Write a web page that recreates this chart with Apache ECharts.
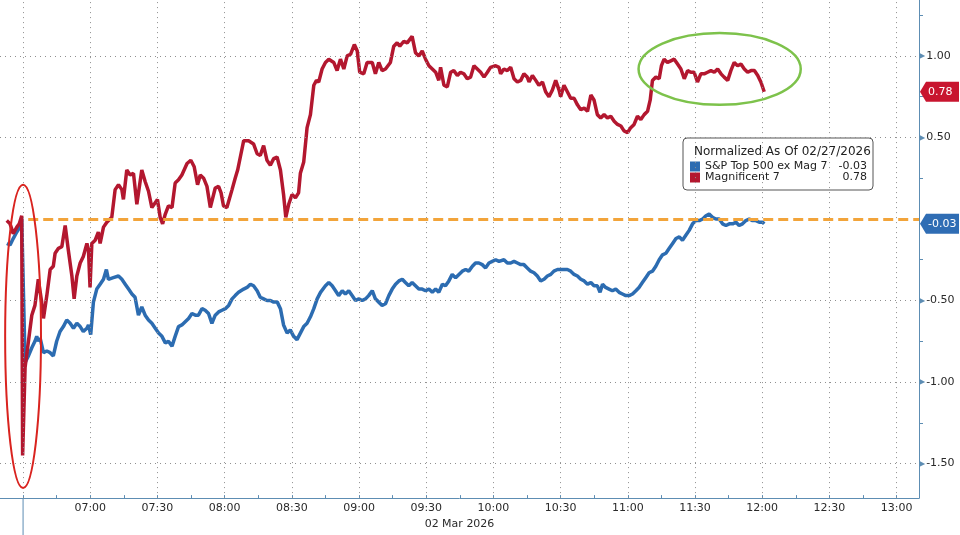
<!DOCTYPE html>
<html><head><meta charset="utf-8">
<script src="https://cdn.jsdelivr.net/npm/echarts@6/dist/echarts.min.js"></script>
<style>html,body{margin:0;padding:0;background:#fff}#c{width:960px;height:535px}</style>
</head><body><div id="c"></div>
<script>
// ---- data (time = minutes after midnight, value = normalized % change) ----
const spxName = 'S&P Top 500 ex Mag 7';
const magName = 'Magnificent 7';
const legendTitle = 'Normalized As Of 02/27/2026';
const dateLabel = '02 Mar 2026';

const spxData = [[382.8,-0.15],[384.2,-0.16],[385.6,-0.12],[387.2,-0.08],[388.6,-0.05],[389.4,0.00],[390.9,-0.88],[392.4,-0.84],[393.9,-0.79],[395.3,-0.75],[396.1,-0.72],[396.8,-0.75],[397.6,-0.73],[399.1,-0.82],[400.6,-0.81],[402.1,-0.82],[403.5,-0.84],[405.0,-0.75],[406.5,-0.69],[408.0,-0.66],[409.5,-0.62],[411.0,-0.64],[412.5,-0.67],[414.0,-0.64],[415.5,-0.66],[416.9,-0.69],[418.5,-0.67],[419.2,-0.65],[420.2,-0.71],[421.4,-0.51],[422.9,-0.43],[424.4,-0.40],[425.9,-0.37],[427.2,-0.31],[428.1,-0.37],[428.9,-0.38],[430.3,-0.36],[432.6,-0.35],[434.1,-0.37],[435.6,-0.40],[437.1,-0.43],[438.6,-0.46],[440.0,-0.48],[441.5,-0.59],[443.0,-0.54],[444.5,-0.59],[446.0,-0.62],[447.5,-0.64],[449.0,-0.67],[450.5,-0.70],[452.0,-0.72],[453.5,-0.76],[454.9,-0.75],[456.5,-0.78],[457.9,-0.72],[459.4,-0.66],[460.9,-0.65],[462.4,-0.63],[463.9,-0.61],[465.4,-0.58],[466.9,-0.59],[468.3,-0.59],[469.9,-0.55],[471.3,-0.56],[472.8,-0.58],[474.3,-0.64],[475.8,-0.59],[477.3,-0.57],[478.8,-0.56],[480.3,-0.55],[481.8,-0.53],[483.3,-0.49],[484.7,-0.47],[486.2,-0.45],[488.5,-0.43],[490.0,-0.42],[491.5,-0.40],[492.9,-0.41],[494.5,-0.44],[495.9,-0.48],[497.4,-0.49],[498.9,-0.50],[500.4,-0.50],[501.9,-0.51],[503.5,-0.51],[504.9,-0.55],[506.3,-0.65],[507.9,-0.70],[509.3,-0.68],[510.8,-0.72],[512.3,-0.74],[513.8,-0.70],[515.3,-0.66],[516.8,-0.64],[518.3,-0.60],[519.8,-0.55],[521.3,-0.49],[522.8,-0.45],[525.0,-0.41],[526.5,-0.39],[528.0,-0.41],[529.5,-0.44],[530.9,-0.47],[532.5,-0.44],[533.9,-0.46],[535.4,-0.44],[536.9,-0.47],[538.4,-0.50],[539.9,-0.49],[541.4,-0.50],[542.9,-0.49],[544.3,-0.47],[545.9,-0.44],[547.3,-0.49],[548.8,-0.51],[550.3,-0.53],[551.8,-0.52],[553.3,-0.47],[554.8,-0.43],[556.3,-0.40],[557.8,-0.38],[559.3,-0.37],[560.7,-0.39],[562.2,-0.41],[563.7,-0.39],[565.2,-0.41],[566.7,-0.43],[568.2,-0.43],[569.7,-0.44],[571.2,-0.43],[572.7,-0.45],[574.2,-0.43],[575.6,-0.45],[577.2,-0.40],[578.6,-0.41],[580.1,-0.38],[581.6,-0.34],[583.1,-0.36],[584.6,-0.34],[586.1,-0.32],[587.6,-0.31],[589.0,-0.32],[590.6,-0.29],[592.0,-0.27],[593.5,-0.27],[595.0,-0.28],[596.5,-0.30],[598.0,-0.27],[599.5,-0.26],[601.0,-0.25],[602.5,-0.26],[604.7,-0.25],[606.2,-0.27],[607.7,-0.27],[609.2,-0.26],[610.7,-0.27],[612.2,-0.28],[613.6,-0.28],[615.1,-0.30],[616.6,-0.32],[618.1,-0.33],[619.6,-0.35],[621.1,-0.38],[622.6,-0.37],[624.1,-0.35],[625.6,-0.34],[627.0,-0.32],[628.6,-0.31],[630.0,-0.31],[633.0,-0.31],[634.5,-0.32],[636.0,-0.34],[637.5,-0.35],[639.0,-0.37],[640.5,-0.38],[642.0,-0.40],[643.5,-0.39],[644.9,-0.41],[646.4,-0.41],[647.6,-0.45],[648.7,-0.40],[650.1,-0.42],[651.6,-0.43],[653.1,-0.44],[654.6,-0.43],[656.1,-0.45],[657.6,-0.46],[659.1,-0.47],[660.6,-0.47],[662.1,-0.46],[663.6,-0.44],[665.0,-0.42],[666.5,-0.39],[668.0,-0.36],[669.5,-0.33],[671.0,-0.32],[672.5,-0.29],[674.0,-0.25],[675.5,-0.22],[677.0,-0.21],[678.5,-0.18],[680.0,-0.15],[681.5,-0.12],[683.0,-0.11],[684.4,-0.13],[685.9,-0.10],[687.4,-0.07],[688.9,-0.03],[690.4,-0.01],[691.9,-0.01],[693.4,0.00],[694.9,0.02],[696.3,0.03],[697.8,0.01],[699.3,0.00],[700.8,0.00],[702.3,-0.03],[703.8,-0.04],[705.3,-0.03],[706.8,-0.03],[708.3,-0.02],[709.7,-0.04],[711.2,-0.03],[712.7,-0.01],[714.2,0.00],[715.7,-0.01],[717.2,-0.01],[718.7,-0.02],[720.2,-0.02],[720.9,-0.03]];

const magData = [[382.7,-0.01],[384.2,-0.03],[385.6,-0.09],[387.2,-0.05],[388.3,-0.03],[389.4,0.02],[389.8,-1.45],[390.9,-0.91],[392.4,-0.75],[393.9,-0.59],[395.3,-0.53],[396.8,-0.37],[398.3,-0.51],[399.1,-0.61],[400.6,-0.47],[402.1,-0.31],[403.5,-0.29],[404.3,-0.21],[405.8,-0.18],[407.3,-0.17],[408.8,-0.04],[410.2,-0.19],[411.8,-0.35],[412.8,-0.49],[414.0,-0.35],[415.5,-0.27],[416.9,-0.23],[418.5,-0.15],[419.2,-0.19],[419.9,-0.42],[420.7,-0.15],[422.2,-0.13],[423.6,-0.08],[424.4,-0.15],[425.9,-0.05],[427.4,-0.02],[429.6,0.01],[431.1,0.18],[432.6,0.21],[434.1,0.18],[434.8,0.12],[436.3,0.30],[437.8,0.27],[439.3,0.28],[440.8,0.09],[441.5,0.09],[443.0,0.30],[444.5,0.23],[446.0,0.17],[447.5,0.07],[449.0,0.10],[450.0,0.12],[451.2,0.01],[452.3,-0.03],[453.5,0.03],[454.9,0.08],[456.5,0.07],[457.9,0.22],[459.4,0.24],[460.9,0.27],[463.2,0.34],[464.9,0.36],[466.4,0.32],[467.9,0.21],[469.1,0.27],[470.6,0.25],[472.1,0.20],[473.6,0.07],[475.8,0.19],[477.3,0.20],[478.4,0.16],[479.5,0.08],[481.0,0.07],[483.3,0.18],[484.7,0.25],[485.8,0.30],[487.0,0.38],[488.5,0.48],[490.7,0.48],[492.9,0.46],[494.5,0.40],[495.9,0.39],[497.4,0.45],[498.9,0.36],[500.4,0.33],[501.9,0.37],[503.4,0.38],[504.9,0.30],[506.3,0.15],[507.3,0.01],[508.6,0.09],[510.1,0.15],[511.6,0.13],[513.0,0.16],[513.8,0.28],[515.3,0.35],[516.8,0.56],[518.3,0.64],[519.8,0.82],[521.0,0.85],[522.0,0.84],[523.5,0.92],[525.0,0.96],[526.5,0.98],[528.7,0.96],[530.2,0.91],[531.7,0.98],[533.2,0.92],[534.7,1.00],[536.2,1.01],[537.9,1.07],[539.2,1.03],[540.3,0.90],[542.1,0.89],[543.6,0.96],[545.9,0.96],[547.3,0.89],[548.8,0.96],[550.3,0.91],[551.8,0.92],[554.0,0.96],[555.5,1.06],[557.0,1.08],[558.2,1.06],[560.0,1.09],[561.5,1.08],[563.7,1.12],[565.2,1.02],[566.7,1.00],[568.2,1.03],[569.7,0.98],[571.2,0.94],[572.7,0.92],[574.2,0.90],[575.6,0.85],[576.4,0.93],[577.9,0.82],[579.4,0.81],[580.9,0.90],[582.3,0.91],[583.9,0.88],[585.3,0.90],[586.8,0.89],[588.3,0.86],[589.8,0.87],[591.3,0.94],[592.8,0.92],[594.3,0.90],[595.8,0.87],[597.3,0.90],[598.7,0.93],[601.0,0.94],[602.5,0.93],[603.2,0.89],[604.7,0.92],[606.2,0.91],[607.7,0.93],[609.2,0.86],[610.7,0.84],[612.2,0.85],[613.6,0.89],[615.1,0.87],[615.9,0.84],[617.4,0.88],[618.9,0.85],[620.3,0.82],[621.9,0.84],[623.3,0.78],[624.8,0.75],[626.3,0.79],[627.8,0.85],[629.3,0.79],[630.0,0.75],[631.5,0.82],[633.0,0.78],[634.5,0.74],[636.0,0.74],[637.5,0.70],[639.0,0.67],[640.5,0.68],[642.0,0.66],[643.5,0.76],[644.9,0.73],[646.4,0.64],[647.9,0.62],[649.4,0.64],[650.9,0.62],[652.4,0.63],[653.9,0.60],[655.4,0.58],[656.9,0.57],[658.3,0.54],[659.9,0.53],[661.3,0.56],[662.8,0.58],[664.3,0.63],[665.8,0.61],[667.3,0.64],[668.8,0.66],[670.0,0.73],[671.0,0.85],[672.5,0.87],[674.0,0.86],[675.0,0.94],[676.2,0.98],[677.7,0.96],[679.2,0.97],[680.7,0.98],[682.2,0.95],[683.7,0.92],[685.2,0.86],[686.7,0.91],[688.1,0.90],[689.6,0.90],[691.1,0.84],[692.6,0.89],[694.1,0.89],[695.6,0.90],[697.1,0.91],[698.6,0.90],[700.1,0.92],[701.6,0.89],[703.0,0.87],[704.6,0.85],[706.0,0.91],[707.5,0.96],[709.0,0.94],[710.5,0.95],[712.0,0.92],[713.5,0.90],[715.0,0.91],[716.5,0.91],[718.0,0.88],[719.4,0.84],[720.9,0.78]];

// axis ranges & ticks
const xMin = 379.7, xMax = 790;
const yMin = -1.712, yMax = 1.343;
const xTickValues = [390,405,420,435,450,465,480,495,510,525,540,555,570,585,600,615,630,645,660,675,690,705,720,735,750,765,780];
const xLabelValues = [420,450,480,510,540,570,600,630,660,690,720,750,780];
const xGridValues = [390,420,450,480,510,540,570,600,630,660,690,720,750,780];
const yTickValues = [-1.5,-1.25,-1,-0.75,-0.5,-0.25,0.25,0.5,0.75,1,1.25];
const yLabelValues = [-1.5,-1,-0.5,0.5,1];
const yGridValues = [-1.5,-1,-0.5,0.5,1];
// annotations
const baselineValue = 0, baselineStart = 392.3;
const redEllipse = {t:390, v:-0.72, dt:8, dv:0.93};
const greenEllipse = {t:701, v:0.92, dt:36.2, dv:0.22};
const sessionStart = 390;

// ---- chart ----
const FONT = '"DejaVu Sans", sans-serif';
const axisColor = '#5d8db3';
const blue = '#2c6cb1', red = '#b3172f', orange = '#f2a43a';
const pad = n => (n < 10 ? '0' : '') + n;
const hhmm = m => pad(Math.floor(m / 60)) + ':' + pad(Math.round(m % 60));
const spxLast = spxData[spxData.length - 1][1];
const magLast = magData[magData.length - 1][1];
const lastOf = {}; lastOf[spxName] = spxLast; lastOf[magName] = magLast;

const chart = echarts.init(document.getElementById('c'));
chart.setOption({
  animation: false,
  textStyle: {fontFamily: FONT},
  grid: {left: 0, right: 41, top: 0, bottom: 30, containLabel: false},
  title: {text: legendTitle, left: 689, top: 141, padding: 5,
    textStyle: {fontFamily: FONT, fontSize: 12, fontWeight: 'normal', color: '#222'}, z: 10},
  legend: {
    data: [spxName, magName], orient: 'vertical', left: 683, top: 138,
    padding: [23, 6, 7, 7], itemGap: 0, itemWidth: 10, itemHeight: 10, icon: 'rect',
    borderColor: '#555', borderWidth: 1, borderRadius: 4, backgroundColor: '#fff',
    selectedMode: false,
    textStyle: {fontFamily: FONT, fontSize: 11, color: '#222',
      rich: {n: {width: 128, fontFamily: FONT, fontSize: 11, color: '#222'},
             v: {width: 34, align: 'right', fontFamily: FONT, fontSize: 11, color: '#222'}}},
    formatter: name => '{n|' + name + '}{v|' + lastOf[name].toFixed(2) + '}'
  },
  xAxis: {
    type: 'value', min: xMin, max: xMax,
    axisLine: {show: true, onZero: false, lineStyle: {color: axisColor, width: 1}},
    axisTick: {show: true, inside: true, length: 3, customValues: xTickValues, lineStyle: {color: axisColor}},
    axisLabel: {customValues: xLabelValues, formatter: hhmm, color: '#2a2a2a', fontSize: 11, margin: 5, fontFamily: FONT},
    splitLine: {show: false},
    name: dateLabel, nameLocation: 'middle', nameGap: 18,
    nameTextStyle: {color: '#2a2a2a', fontSize: 11, fontFamily: FONT}
  },
  yAxis: {
    type: 'value', position: 'right', min: yMin, max: yMax,
    axisLine: {show: true, onZero: false, lineStyle: {color: axisColor, width: 1}},
    axisTick: {show: true, length: 4, customValues: yTickValues, lineStyle: {color: axisColor}},
    axisLabel: {customValues: yLabelValues, margin: 0, color: '#2a2a2a', fontSize: 11, fontFamily: FONT,
      formatter: v => '{t|\u25B6}' + v.toFixed(2),
      rich: {t: {color: axisColor, fontSize: 8, padding: [0, 1, 0, 0]}}},
    splitLine: {show: false}
  },
  series: [
    {type: 'line', data: [], silent: true, z: 1,
      markLine: {silent: true, symbol: 'none', label: {show: false}, animation: false,
        lineStyle: {color: '#8f8f8f', type: [1, 4], width: 1},
        data: xGridValues.map(v => ({xAxis: v})).concat(yGridValues.map(v => ({yAxis: v})))}},
    {name: spxName, type: 'line', data: spxData, symbol: 'none', z: 3,
      lineStyle: {color: blue, width: 3.5}, itemStyle: {color: blue}},
    {name: magName, type: 'line', data: magData, symbol: 'none', z: 4,
      lineStyle: {color: red, width: 3.5}, itemStyle: {color: red}},
    {type: 'line', data: [], silent: true, z: 6,
      markLine: {silent: true, symbol: 'none', label: {show: false}, animation: false,
        lineStyle: {color: orange, type: [10, 5], width: 3},
        data: [[{coord: [baselineStart, baselineValue]}, {coord: [xMax, baselineValue]}]]}}
  ]
});

const px = (t, v) => chart.convertToPixel({xAxisIndex: 0, yAxisIndex: 0}, [t, v]);
function ellipse(a, color, w) {
  const c = px(a.t, a.v), e = px(a.t + a.dt, a.v + a.dv);
  return {type: 'ellipse', silent: true, z: 100,
    shape: {cx: c[0], cy: c[1], rx: Math.abs(e[0] - c[0]), ry: Math.abs(e[1] - c[1])},
    style: {fill: 'none', stroke: color, lineWidth: w}};
}
function tag(v, color) {
  const p = px(xMax, v), x0 = p[0] + 1, y = p[1], W = chart.getWidth();
  return [
    {type: 'polygon', silent: true, z: 100,
      shape: {points: [[x0, y], [x0 + 6, y - 10], [W - 1, y - 10], [W - 1, y + 10], [x0 + 6, y + 10]]},
      style: {fill: color}},
    {type: 'text', silent: true, z: 101, x: x0 + 8, y: y,
      style: {text: v.toFixed(2), fill: '#fff', font: '11px "DejaVu Sans"', align: 'left', verticalAlign: 'middle',
        textAlign: 'left', textVerticalAlign: 'middle'}}
  ];
}
const sep = px(sessionStart, yMin);
chart.setOption({
  graphic: [
    ellipse(redEllipse, '#d9231f', 2),
    ellipse(greenEllipse, '#7dc24b', 2.5),
    {type: 'line', silent: true, z: 50, shape: {x1: sep[0], y1: sep[1], x2: sep[0], y2: chart.getHeight()},
      style: {stroke: axisColor, lineWidth: 1}}
  ].concat(tag(magLast, '#c8152f')).concat(tag(spxLast, '#2f6db4'))
});
</script>
</body></html>
